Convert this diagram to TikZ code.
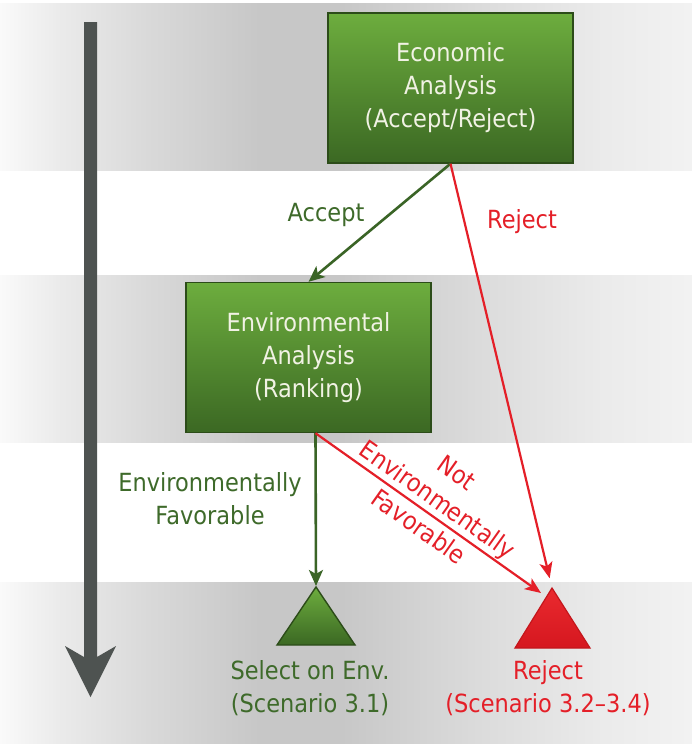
\documentclass[tikz,border=0pt]{standalone}
\usepackage{fontspec}
\setmainfont{DejaVu Sans}[FakeStretch=0.9]
\usetikzlibrary{arrows.meta,calc}

\definecolor{boxtop}{HTML}{6DAD3E}
\definecolor{boxbot}{HTML}{3B6823}
\definecolor{boxedge}{HTML}{2C4C19}
\definecolor{boxtext}{HTML}{F1F2E4}
\definecolor{gtext}{HTML}{3E6A2A}
\definecolor{gline}{HTML}{3A6426}
\definecolor{rline}{HTML}{E41F28}
\definecolor{rtop}{HTML}{EA2A2F}
\definecolor{rbot}{HTML}{D5171F}
\definecolor{redge}{HTML}{C4161C}
\definecolor{bigarrow}{HTML}{4E5351}

% horizontal grey stripe behind each stage (path spans 25bp..75bp)
\pgfdeclarehorizontalshading{bandshade}{100bp}{%
  color(0bp)=(black!2); color(25bp)=(black!2); color(29.3bp)=(black!8);
  color(35.8bp)=(black!15); color(43.8bp)=(black!22); color(49.6bp)=(black!22);
  color(59.7bp)=(black!14); color(68.4bp)=(black!8); color(75bp)=(black!5);
  color(100bp)=(black!5)}

\begin{document}
\begin{tikzpicture}[x=1pt,y=-1pt,
  txt/.style={font=\fontsize{25}{33}\selectfont, align=center, inner sep=0pt},
  stagebox/.style={txt, draw=boxedge, line width=1.4pt, top color=boxtop,
    bottom color=boxbot, text=boxtext, minimum width=245pt, minimum height=150pt},
  garrow/.style={draw=gline, line width=2.6pt,
    -{Stealth[length=16pt,width=14pt,inset=4pt]}},
  rarrow/.style={draw=rline, line width=2.2pt,
    -{Stealth[length=16pt,width=13pt,inset=4pt]}},
  glabel/.style={txt, text=gtext},
  rlabel/.style={txt, text=rline},
  gtri/.style={draw=boxedge, line width=1.4pt, line join=miter, top color=boxtop, bottom color=boxbot},
  rtri/.style={draw=redge, line width=1.2pt, line join=miter, top color=rtop, bottom color=rbot}]

\useasboundingbox (0,0) rectangle (692,744);
\fill[white] (0,0) rectangle (692,744);

% stage stripes
\foreach \t/\b in {3/170, 275/442, 582/744}
  \shade[shading=bandshade] (0,\t) rectangle (692,\b);

% time / sequence arrow on the left
\fill[bigarrow] (84,22) -- (97,22) -- (97,657) -- (116,646) -- (90.5,697)
  -- (65,646) -- (84,657) -- cycle;

% stages
\node[stagebox] (econ) at (450.5,88) {Economic\\Analysis\\(Accept/Reject)};
\node[stagebox] (env) at (308.5,357.5) {Environmental\\Analysis\\(Ranking)};

% outcomes
\coordinate (selApex) at (316,587);
\coordinate (rejApex) at (552,588);
\coordinate (rejSide) at (541,593);
\coordinate (envOut) at ([xshift=7pt]env.south);

\path[gtri] (selApex) -- (355,645) -- (277,645) -- cycle;
\path[rtri] (rejApex) -- (590,648) -- (515,648) -- cycle;

% connectors
\draw[garrow] (econ.south) -- (env.north);
\draw[rarrow, shorten >=10pt] (econ.south) -- (rejApex);
\draw[garrow, shorten >=1pt] (envOut) -- (selApex);
\draw[rarrow] (envOut) -- (rejSide);

% connector labels
\node[glabel] (accLab) at (326,215) {Accept};
\node[rlabel] (rejLab) at (522,222) {Reject};
\node[glabel] (favLab) at (210,499) {Environmentally\\Favorable};
\node[rlabel, rotate=-35.3] (notLab) at ($(envOut)!0.5!(rejSide)!16.5pt!90:(rejSide)$)
  {Not\\Environmentally\\Favorable};

% outcome labels
\node[glabel] (selLab) at (310,688) {Select on Env.\\(Scenario 3.1)};
\node[rlabel] (rejOut) at (548,688) {Reject\\(Scenario 3.2–3.4)};

\end{tikzpicture}
\end{document}
